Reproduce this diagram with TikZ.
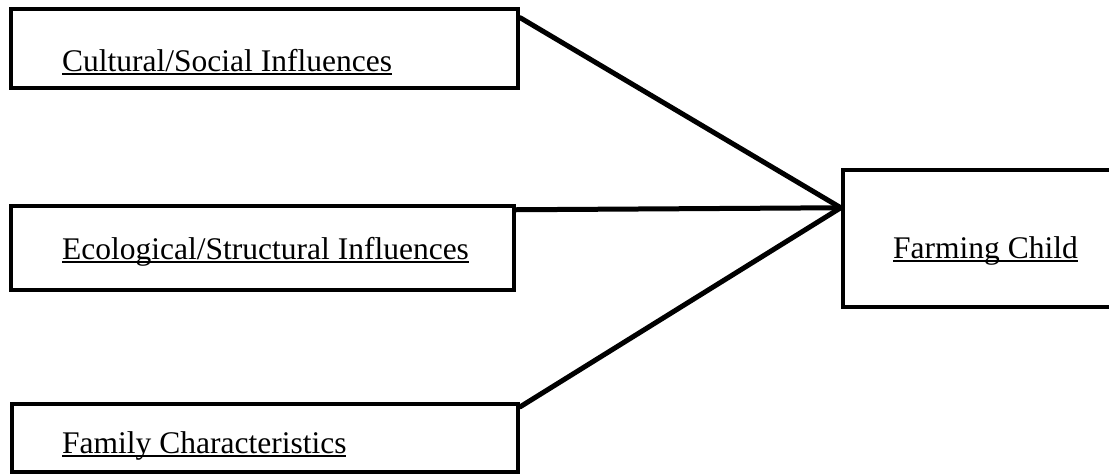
\documentclass[tikz,border=0pt]{standalone}
\usepackage{fontspec}
\setmainfont{Liberation Serif}

% underline at a fixed depth, descenders cross it
\newsavebox{\ulbox}
\newcommand{\ultext}[1]{\sbox{\ulbox}{#1}\rlap{\rule[-3.5pt]{\wd\ulbox}{1.6pt}}\usebox{\ulbox}}

\begin{document}
\begin{tikzpicture}[x=1pt, y=-1pt,
  factorbox/.style={draw, black, line width=4.5pt, inner sep=0pt},
  boxtext/.style={anchor=base west, inner sep=0pt, font=\fontsize{31.5}{36}\selectfont},
  link/.style={black, line width=5pt, line cap=round}]

\useasboundingbox (0,0) rectangle (1109,474);

\node [factorbox, minimum width=507pt, minimum height=79pt] (cultural) at (264.5,48.5) {};
\node [factorbox, minimum width=503pt, minimum height=84pt] (ecological) at (262.5,248) {};
\node [factorbox, minimum width=506pt, minimum height=68pt] (family) at (265,438) {};
\node [factorbox, minimum width=272pt, minimum height=137pt] (child) at (979,238.5) {};

\node [boxtext] (culturaltext) at (62,71) {\ultext{Cultural/Social Influences}};
\node [boxtext] (ecologicaltext) at (62,259) {\ultext{Ecological/Structural Influences}};
\node [boxtext] (familytext) at (62,453) {\ultext{Family Characteristics}};
\node [boxtext] (childtext) at (893,258) {\ultext{Farming Child}};

\coordinate (meet) at ([yshift=-40pt]child.north west);

\draw [link] ([yshift=-11pt]cultural.north east) -- (meet);
\draw [link] ([yshift=-6pt]ecological.north east) -- (meet);
\draw [link] ([yshift=-5pt]family.north east) -- (meet);

\end{tikzpicture}
\end{document}
